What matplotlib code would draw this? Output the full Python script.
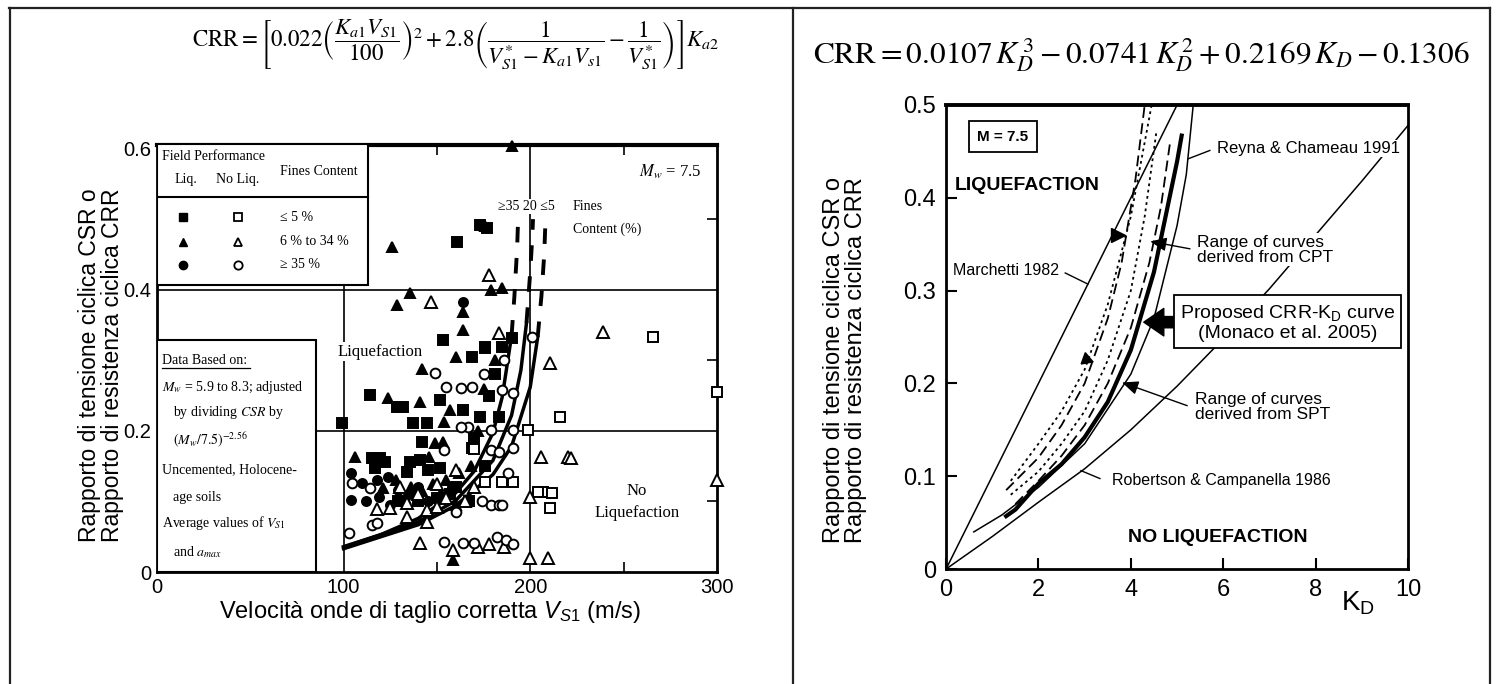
import matplotlib
matplotlib.use("Agg")
import matplotlib.pyplot as plt
from matplotlib.lines import Line2D
from matplotlib.patches import Rectangle

plt.rcParams['font.family'] = ['Liberation Sans', 'DejaVu Sans']
plt.rcParams['mathtext.fontset'] = 'custom'
plt.rcParams['mathtext.rm'] = 'Liberation Sans'
plt.rcParams['mathtext.it'] = 'Liberation Sans:italic'
plt.rcParams['mathtext.bf'] = 'Liberation Sans:bold'

SERIF = ['Liberation Serif', 'DejaVu Serif']

# ---------------- left chart data (Vs1 in m/s, CSR/CRR) ----------------
liq_square = [(99, 0.211), (114, 0.251), (115, 0.162), (119.5, 0.162), (117, 0.148), (122, 0.156),
              (128.5, 0.234), (132, 0.234), (134, 0.142), (135.5, 0.156), (137, 0.211), (141, 0.159),
              (142, 0.184), (144.6, 0.211), (145, 0.145), (151.6, 0.244), (151.6, 0.147), (153, 0.329),
              (157, 0.11), (160, 0.12), (161, 0.467), (164, 0.23), (167, 0.10), (169, 0.304),
              (169, 0.176), (170, 0.19), (173, 0.22), (173, 0.492), (175.7, 0.319), (176, 0.318),
              (176, 0.15), (177, 0.488), (178, 0.25), (181, 0.28), (183, 0.22), (185, 0.319),
              (190, 0.332), (150, 0.105), (140, 0.10), (129, 0.10)]
liq_triangle = [(126, 0.461), (190, 0.603), (176, 0.49), (128.5, 0.379), (135.5, 0.396), (164, 0.343),
                (164, 0.368), (160, 0.304), (142, 0.287), (124, 0.247), (141, 0.241), (157, 0.23),
                (154, 0.213), (149, 0.183), (153, 0.184), (106, 0.163), (146, 0.163), (179, 0.4),
                (185, 0.403), (121, 0.119), (158.5, 0.017), (128, 0.13), (136, 0.12), (142, 0.115),
                (148, 0.125), (155, 0.13), (162, 0.14), (168, 0.15), (172, 0.2), (175, 0.26),
                (181, 0.3), (133, 0.105), (160, 0.095), (152, 0.112)]
liq_circle = [(164, 0.383), (104, 0.102), (110, 0.126), (118, 0.13), (124, 0.135), (129, 0.116),
              (119, 0.106), (112, 0.1), (125, 0.095), (135, 0.11), (140, 0.12), (145, 0.1),
              (104, 0.14), (158, 0.12)]
noliq_square = [(300, 0.255), (266, 0.333), (216, 0.22), (199, 0.201), (175.7, 0.128), (185, 0.128),
                (191, 0.128), (207, 0.113), (211.5, 0.112), (210.5, 0.091), (170, 0.174), (204, 0.113)]
noliq_triangle = [(147, 0.383), (178, 0.421), (183, 0.339), (210.5, 0.296), (239, 0.34), (300, 0.13),
                  (206, 0.163), (220, 0.163), (222, 0.161), (200, 0.106), (200, 0.02), (209.6, 0.02),
                  (125, 0.091), (134, 0.098), (144.6, 0.088), (150, 0.092), (134, 0.078),
                  (144.6, 0.071), (141, 0.041), (158.5, 0.031), (172, 0.035), (140, 0.11),
                  (155, 0.105), (165, 0.1), (150, 0.125), (130, 0.12), (178, 0.04), (186, 0.035),
                  (118, 0.09), (160, 0.145), (170, 0.12)]
noliq_circle = [(149, 0.282), (155, 0.262), (163, 0.261), (169, 0.262), (166.6, 0.206), (154, 0.173),
                (104.4, 0.126), (114, 0.119), (103, 0.055), (115, 0.067), (118, 0.07), (154, 0.043),
                (164, 0.041), (170, 0.041), (191, 0.254), (185, 0.258), (191, 0.201), (191, 0.176),
                (179, 0.201), (179, 0.173), (179, 0.095), (183, 0.095), (185, 0.095), (201, 0.333),
                (182, 0.05), (187, 0.045), (191, 0.04), (186, 0.3), (175, 0.28), (188, 0.14),
                (183, 0.17), (174, 0.1), (160, 0.085), (163, 0.205)]

# CRR curves (solid part, dashed continuation) for fines >=35, 20, <=5 %
vs_35 = [100, 120, 140, 160, 170, 180, 185, 190]
crr_35 = [0.036, 0.053, 0.076, 0.112, 0.143, 0.197, 0.248, 0.335]
vs_35d = [190, 191.5, 193, 193.5]
crr_35d = [0.335, 0.39, 0.46, 0.5]
vs_20 = [100, 140, 160, 180, 190, 195, 198]
crr_20 = [0.035, 0.071, 0.101, 0.158, 0.222, 0.286, 0.353]
vs_20d = [198, 200, 201, 201.5]
crr_20d = [0.353, 0.425, 0.47, 0.5]
vs_5 = [100, 140, 160, 180, 190, 200, 204]
crr_5 = [0.033, 0.067, 0.094, 0.138, 0.178, 0.262, 0.333]
vs_5d = [204, 206, 207.5, 208.2]
crr_5d = [0.333, 0.391, 0.45, 0.5]

# ---------------- right chart data (KD, CRR) ----------------
marchetti_kd = [0, 5]
marchetti_crr = [0, 0.5]
robertson_kd = [0, 1, 2, 3, 4, 5, 6, 7, 8, 9, 10]
robertson_crr = [0, 0.035, 0.072, 0.108, 0.15, 0.197, 0.248, 0.302, 0.36, 0.418, 0.478]
reyna_kd = [0.6, 1.2, 2, 3, 4, 4.5, 4.8, 5.0, 5.2, 5.35]
reyna_crr = [0.04, 0.058, 0.088, 0.135, 0.21, 0.27, 0.33, 0.37, 0.425, 0.5]
cpt_up_kd = [1.3, 2, 2.5, 3, 3.5, 3.8, 4.1, 4.3]
cpt_up_crr = [0.085, 0.12, 0.155, 0.2, 0.27, 0.33, 0.42, 0.5]
cpt_lo_kd = [1.5, 2, 2.5, 3, 3.5, 4, 4.4, 4.65, 4.85]
cpt_lo_crr = [0.07, 0.095, 0.122, 0.155, 0.2, 0.26, 0.33, 0.39, 0.46]
spt_up_kd = [1.4, 2, 2.5, 3, 3.5, 4, 4.45]
spt_up_crr = [0.095, 0.135, 0.17, 0.215, 0.285, 0.38, 0.5]
spt_lo_kd = [1.4, 2, 2.5, 3, 3.5, 4, 4.3, 4.55]
spt_lo_crr = [0.08, 0.105, 0.135, 0.17, 0.225, 0.3, 0.38, 0.47]
proposed_kd = [1.3, 1.5, 2, 2.5, 3, 3.5, 4, 4.5, 5, 5.1]
proposed_crr = [0.057, 0.064, 0.092, 0.113, 0.142, 0.18, 0.236, 0.32, 0.439, 0.467]

fig = plt.figure(figsize=(14.96, 6.84), dpi=100)

# table borders
for xs, ys in [([0.006, 0.996], [0.988, 0.988]), ([0.0067, 0.0067], [0, 0.988]),
               ([0.53, 0.53], [0, 0.988]), ([0.996, 0.996], [0, 0.988])]:
    fig.add_artist(Line2D(xs, ys, color='#222222', lw=1.6, transform=fig.transFigure))

# ================= LEFT =================
ax1 = fig.add_axes([0.1049, 0.1637, 0.3743, 0.6243])
ax1.set_xlim(0, 300)
ax1.set_ylim(0, 0.605)
for s in ax1.spines.values():
    s.set_linewidth(2)
ax1.spines['top'].set_linewidth(3)
ax1.set_xticks([0, 100, 200, 300])
ax1.set_xticklabels(['0', '100', '200', '300'])
ax1.set_yticks([0, 0.2, 0.4, 0.6])
ax1.set_yticklabels(['0', '0.2', '0.4', '0.6'])
ax1.tick_params(axis='both', which='major', length=0, labelsize=14.5, pad=4)
ax1.set_xticks([50, 150, 250], minor=True)
ax1.set_yticks([0.1, 0.3, 0.5], minor=True)
ax1.tick_params(which='minor', direction='in', length=7, width=1.2, top=True, right=True)

ax1.axvline(100, color='k', lw=1.2, zorder=1)
ax1.axvline(200, color='k', lw=1.2, zorder=1)
ax1.axhline(0.2, color='k', lw=1.2, zorder=1)
ax1.axhline(0.4, color='k', lw=1.2, zorder=1)

for vs, cr, vd, cd in [(vs_35, crr_35, vs_35d, crr_35d), (vs_20, crr_20, vs_20d, crr_20d),
                       (vs_5, crr_5, vs_5d, crr_5d)]:
    ax1.plot(vs, cr, color='k', lw=2.5, zorder=3)
    ax1.plot(vd, cd, color='k', lw=2.8, dashes=(4, 4), zorder=3)

def pts(lst):
    return [p[0] for p in lst], [p[1] for p in lst]

for lst, m, ms, filled in [(liq_square, 's', 6.5, True), (liq_triangle, '^', 7.5, True),
                           (liq_circle, 'o', 6.5, True), (noliq_square, 's', 7, False),
                           (noliq_triangle, '^', 8, False), (noliq_circle, 'o', 7, False)]:
    x, y = pts(lst)
    ax1.plot(x, y, m, ms=ms, mfc='k' if filled else 'white', mec='k', mew=1.4,
             ls='none', zorder=4, clip_on=False)

# legend box
ax1.add_patch(Rectangle((0, 0.407), 113, 0.2, fc='white', ec='k', lw=1.5, zorder=6))
ax1.plot([0, 113], [0.532, 0.532], color='k', lw=1.5, zorder=7)
ax1.text(2.7, 0.589, 'Field Performance', fontsize=10, family=SERIF, va='center', zorder=7)
ax1.text(15.3, 0.556, 'Liq.', fontsize=10, family=SERIF, ha='center', va='center', zorder=7)
ax1.text(43.5, 0.556, 'No Liq.', fontsize=10, family=SERIF, ha='center', va='center', zorder=7)
ax1.text(86.5, 0.567, 'Fines Content', fontsize=10, family=SERIF, ha='center', va='center', zorder=7)
for yy, m, lab in [(0.503, 's', '≤ 5 %'), (0.468, '^', '6 % to 34 %'), (0.435, 'o', '≥ 35 %')]:
    ax1.plot([14], [yy], m, ms=6, mfc='k', mec='k', zorder=8)
    ax1.plot([43.5], [yy], m, ms=6, mfc='white', mec='k', mew=1.3, zorder=8)
    ax1.text(66, yy, lab, fontsize=10, family=SERIF, va='center', zorder=8)

# data box
ax1.add_patch(Rectangle((0, 0), 85, 0.329, fc='white', ec='k', lw=1.5, zorder=6))
box_lines = [(2.7, 0.300, 'Data Based on:'),
             (2.7, 0.262, r'$M_w$ = 5.9 to 8.3; adjusted'),
             (8.6, 0.2255, r'by dividing $CSR$ by'),
             (8.6, 0.187, r'$(M_w/7.5)^{-2.56}$'),
             (2.7, 0.1447, 'Uncemented, Holocene-'),
             (8.6, 0.106, 'age soils'),
             (2.7, 0.0695, r'Average values of $V_{S1}$'),
             (8.6, 0.028, r'and $a_{max}$')]
for xx, yy, t in box_lines:
    ax1.text(xx, yy, t, fontsize=10, family=SERIF, math_fontfamily='stix', va='center', zorder=7)
ax1.plot([2.7, 50], [0.289, 0.289], color='k', lw=0.9, zorder=7)

wb = dict(fc='white', ec='none', pad=1)
ax1.text(97, 0.312, 'Liquefaction', fontsize=12, family=SERIF, va='center', bbox=wb, zorder=2)
ax1.text(257, 0.099, 'No\nLiquefaction', fontsize=12, family=SERIF, ha='center', va='center',
         linespacing=1.5)
ax1.text(292, 0.567, r'$M_w$ = 7.5', fontsize=12, family=SERIF, math_fontfamily='stix',
         ha='right', va='center')
ax1.text(182.6, 0.518, '≥35 20 ≤5', fontsize=10, family=SERIF, va='center', bbox=wb, zorder=2)
ax1.text(222.8, 0.518, 'Fines', fontsize=10, family=SERIF, va='center')
ax1.text(222.8, 0.485, 'Content (%)', fontsize=10, family=SERIF, va='center')

fig.text(101 / 1496, 0.466, 'Rapporto di tensione ciclica CSR o\nRapporto di resistenza ciclica CRR',
         rotation=90, ha='center', va='center', fontsize=16.5, linespacing=1.05)
fig.text(430 / 1496, 1 - 612 / 684, r'Velocità onde di taglio corretta $V_{S1}$ (m/s)',
         ha='center', va='center', fontsize=17)

fig.text(456 / 1496, 0.934,
         r'$\mathrm{CRR}=\left[0.022\left(\dfrac{K_{a1}V_{S1}}{100}\right)^{2}+2.8\left(\dfrac{1}'
         r'{V_{S1}^{*}-K_{a1}V_{s1}}-\dfrac{1}{V_{S1}^{*}}\right)\right]K_{a2}$',
         ha='center', va='center', fontsize=16.5, math_fontfamily='stix')

# ================= RIGHT =================
ax2 = fig.add_axes([0.6324, 0.1681, 0.3088, 0.6784])
ax2.set_xlim(0, 10)
ax2.set_ylim(0, 0.5)
for s in ax2.spines.values():
    s.set_linewidth(2)
ax2.spines['top'].set_linewidth(2.8)
ax2.set_xticks([0, 2, 4, 6, 8, 10])
ax2.set_xticklabels(['0', '2', '4', '6', '8', '10'])
ax2.set_yticks([0, 0.1, 0.2, 0.3, 0.4, 0.5])
ax2.set_yticklabels(['0', '0.1', '0.2', '0.3', '0.4', '0.5'])
ax2.tick_params(direction='in', length=8, width=1.5, labelsize=17, pad=7)

ax2.plot(marchetti_kd, marchetti_crr, color='k', lw=1.1)
ax2.plot(robertson_kd, robertson_crr, color='k', lw=1.1)
ax2.plot(reyna_kd, reyna_crr, color='k', lw=1.1)
ax2.plot(cpt_up_kd, cpt_up_crr, color='k', lw=1.3, dashes=(6, 3))
ax2.plot(cpt_lo_kd, cpt_lo_crr, color='k', lw=1.3, dashes=(6, 3))
ax2.plot(spt_up_kd, spt_up_crr, color='k', lw=1.3, dashes=(1.5, 2))
ax2.plot(spt_lo_kd, spt_lo_crr, color='k', lw=1.3, dashes=(1.5, 2))
ax2.plot(proposed_kd, proposed_crr, color='k', lw=3)

# range arrowheads
ax2.plot([3.72], [0.36], '>', ms=10, color='k')
ax2.plot([3.02], [0.226], marker=(3, 0, -110), ms=10, color='k')

ax2.text(1.23, 0.466, 'M = 7.5', fontsize=11, weight='bold', ha='center', va='center',
         bbox=dict(boxstyle='square,pad=0.55', fc='white', ec='k', lw=1.3))
ax2.text(0.19, 0.413, 'LIQUEFACTION', fontsize=14, weight='bold', va='center')
ax2.text(3.94, 0.034, 'NO LIQUEFACTION', fontsize=14, weight='bold', va='center')

ax2.text(0.15, 0.322, 'Marchetti 1982', fontsize=11.5, va='center')
ax2.plot([2.58, 3.07], [0.319, 0.307], color='k', lw=1)
ax2.text(5.87, 0.453, 'Reyna & Chameau 1991', fontsize=12, va='center', bbox=wb, zorder=5)
ax2.plot([5.71, 5.24], [0.451, 0.442], color='k', lw=1)
ax2.text(5.43, 0.344, 'Range of curves\nderived from CPT', fontsize=12.5, va='center',
         linespacing=1.0, bbox=wb, zorder=5)
ax2.annotate('', xy=(4.42, 0.353), xytext=(5.28, 0.345),
             arrowprops=dict(arrowstyle='-|>,head_length=0.7,head_width=0.3', color='k', lw=1,
                             shrinkA=0, shrinkB=0, mutation_scale=14))
ax2.text(5.39, 0.175, 'Range of curves\nderived from SPT', fontsize=12.5, va='center',
         linespacing=1.0, bbox=wb, zorder=5)
ax2.annotate('', xy=(3.81, 0.201), xytext=(5.22, 0.176),
             arrowprops=dict(arrowstyle='-|>,head_length=0.7,head_width=0.3', color='k', lw=1,
                             shrinkA=0, shrinkB=0, mutation_scale=14))
ax2.text(3.59, 0.095, 'Robertson & Campanella 1986', fontsize=11.5, va='center',
         bbox=wb, zorder=5)
ax2.plot([3.33, 2.92], [0.0975, 0.106], color='k', lw=1)
ax2.text(7.4, 0.266, 'Proposed CRR-K$_\\mathrm{D}$ curve\n(Monaco et al. 2005)', fontsize=14,
         ha='center', va='center', linespacing=1.1, zorder=6,
         bbox=dict(boxstyle='square,pad=0.3', fc='white', ec='k', lw=1.3))
ax2.annotate('', xy=(4.28, 0.266), xytext=(5.05, 0.266),
             arrowprops=dict(arrowstyle='simple,head_length=0.8,head_width=1.1,tail_width=0.45',
                             fc='k', ec='k', shrinkA=0, shrinkB=0, mutation_scale=18))

ax2.text(8.92, -0.037, 'K$_\\mathrm{D}$', fontsize=20, ha='center', va='center')

fig.text(845 / 1496, 0.474, 'Rapporto di tensione ciclica CSR o\nRapporto di resistenza ciclica CRR',
         rotation=90, ha='center', va='center', fontsize=17, linespacing=1.05)
fig.text(0.763, 0.92,
         r'$\mathrm{CRR}=0.0107\,K_D^{\,3}-0.0741\,K_D^{\,2}+0.2169\,K_D-0.1306$',
         ha='center', va='center', fontsize=22.5, math_fontfamily='stix')

fig.savefig('out.png', dpi=100)
